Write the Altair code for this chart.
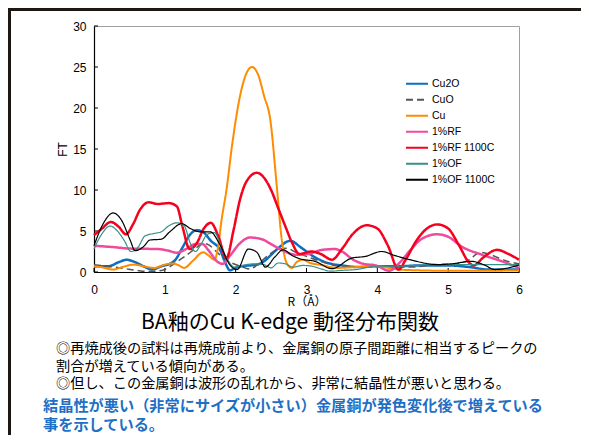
import altair as alt
import pandas as pd

# ---------------- data ----------------
series = ["Cu2O", "CuO", "Cu", "1%RF", "1%RF 1100C", "1%OF", "1%OF 1100C"]
colors = ["#0a6fc2", "#555555", "#ff8c00", "#ee4b9c", "#f5001e", "#3a8f88", "#000000"]
dashes = [[1, 0], [7, 4], [1, 0], [1, 0], [1, 0], [1, 0], [1, 0]]
widths = [2.5, 1.5, 2.0, 2.5, 2.5, 1.2, 1.2]

cu2o_x = [0, 0.2, 0.35, 0.46, 0.58, 0.7, 0.82, 0.95, 1.07, 1.15, 1.25, 1.36, 1.45, 1.55, 1.65, 1.78, 1.86, 1.92, 2.0, 2.09, 2.3, 2.4, 2.49, 2.6, 2.77, 2.92, 3.08, 3.3, 3.5, 3.75, 4.0, 4.3, 4.6, 5.0, 5.3, 5.57, 5.8, 6.0]
cu2o_y = [0.7, 0.7, 1.2, 1.5, 1.2, 0.7, 0.3, 0.7, 1.0, 1.5, 3.0, 4.6, 5.1, 4.8, 3.8, 2.7, 1.0, 0.2, 0.5, 0.7, 0.9, 1.3, 2.0, 2.9, 3.8, 3.0, 2.0, 1.1, 0.8, 0.6, 0.7, 0.7, 0.8, 0.8, 0.6, 0.3, 0.3, 0.3]

cuo_x = [0, 0.23, 0.41, 0.6, 0.78, 0.98, 1.17, 1.3, 1.45, 1.54, 1.62, 1.75, 1.87, 1.97, 2.1, 2.2, 2.32, 2.44, 2.58, 2.72, 2.85, 3.0, 3.2, 3.4, 3.6, 4.0, 4.5, 4.8, 5.1, 5.3, 5.45, 5.6, 5.8, 6.0]
cuo_y = [0.9, 0.65, 0.45, 0.2, 0.05, 0.25, 1.25, 2.0, 3.0, 3.5, 3.3, 2.3, 1.4, 1.0, 0.6, 0.35, 1.0, 1.9, 2.7, 2.9, 2.4, 1.9, 1.3, 0.8, 0.6, 0.6, 0.6, 0.9, 1.0, 1.5, 2.4, 2.1, 1.4, 1.0]

cu_x = [0, 0.1, 0.27, 0.4, 0.56, 0.7, 0.85, 1.0, 1.11, 1.2, 1.27, 1.4, 1.54, 1.62, 1.70, 1.75, 1.80, 1.87, 1.95, 2.06, 2.15, 2.23, 2.32, 2.4, 2.49, 2.58, 2.65, 2.72, 2.79, 2.86, 2.95, 3.05, 3.18, 3.45, 3.7, 3.98, 4.3, 4.6, 5.0, 5.5, 6.0]
cu_y = [0.7, 0.6, 0.3, 0.6, 0.9, 0.7, 0.5, 0.9, 1.05, 0.8, 0.5, 1.4, 2.4, 2.0, 1.5, 3.0, 6.3, 10.0, 15.5, 21.4, 24.2, 25.0, 24.0, 21.5, 18.5, 10.5, 4.0, 1.1, 0.5, 1.2, 1.5, 1.1, 0.9, 0.5, 0.6, 0.7, 0.3, 0.2, 0.15, 0.15, 0.2]

rf_x = [0, 0.25, 0.53, 0.9, 1.05, 1.17, 1.3, 1.43, 1.53, 1.62, 1.75, 1.82, 1.92, 2.06, 2.2, 2.37, 2.5, 2.67, 2.85, 3.02, 3.22, 3.4, 3.5, 3.66, 3.8, 3.98, 4.17, 4.3, 4.46, 4.62, 4.84, 5.0, 5.19, 5.48, 5.76, 6.0]
rf_y = [3.2, 3.05, 2.85, 2.8, 2.6, 2.35, 2.8, 3.4, 3.4, 2.6, 1.2, 1.0, 2.0, 3.5, 4.2, 4.0, 3.4, 2.6, 2.1, 2.2, 2.7, 2.8, 2.5, 1.5, 1.0, 0.8, 0.15, 1.0, 2.6, 4.0, 4.6, 4.3, 3.1, 2.1, 1.3, 0.5]

rf11_x = [0, 0.1, 0.24, 0.35, 0.45, 0.55, 0.65, 0.77, 0.9, 1.06, 1.17, 1.25, 1.35, 1.45, 1.55, 1.65, 1.75, 1.87, 1.97, 2.06, 2.15, 2.3, 2.4, 2.5, 2.6, 2.7, 2.8, 2.9, 3.07, 3.2, 3.36, 3.5, 3.65, 3.85, 4.0, 4.15, 4.3, 4.4, 4.55, 4.7, 4.85, 5.0, 5.15, 5.3, 5.36, 5.5, 5.69, 5.85, 6.0]
rf11_y = [4.5, 5.2, 6.1, 5.5, 4.6, 5.8, 7.6, 8.5, 8.3, 8.4, 8.0, 5.5, 2.8, 3.5, 5.3, 6.0, 4.5, 1.7, 5.1, 8.8, 11.0, 12.1, 11.5, 10.0, 7.8, 5.6, 3.5, 2.2, 2.5, 2.2, 1.5, 2.8, 4.6, 5.7, 5.3, 3.2, 0.3, 1.5, 3.8, 5.3, 5.8, 5.3, 3.3, 1.1, 0.8, 1.8, 2.7, 2.2, 1.5]

of_x = [0, 0.1, 0.23, 0.33, 0.43, 0.52, 0.62, 0.72, 0.85, 0.95, 1.05, 1.17, 1.27, 1.36, 1.43, 1.5, 1.6, 1.7, 1.8, 1.9, 1.98, 2.1, 2.25, 2.4, 2.5, 2.6, 2.7, 2.81, 2.95, 3.08, 3.2, 3.34, 3.5, 3.7, 3.98, 4.3, 4.78, 5.3, 5.7, 6.0]
of_y = [2.8, 4.5, 5.6, 5.0, 3.8, 2.5, 3.0, 4.4, 4.7, 4.9, 5.6, 6.0, 5.7, 3.5, 2.5, 3.2, 4.6, 4.8, 3.0, 1.3, 0.6, 0.8, 1.0, 0.9, 0.5, 1.1, 1.0, 0.6, 0.8, 0.7, 0.4, 0.1, 0.2, 0.3, 0.7, 0.7, 0.9, 0.9, 0.9, 0.9]

of11_x = [0, 0.13, 0.27, 0.39, 0.51, 0.58, 0.7, 0.79, 0.95, 1.07, 1.24, 1.36, 1.5, 1.64, 1.78, 1.92, 2.02, 2.18, 2.3, 2.42, 2.55, 2.67, 2.8, 2.91, 3.12, 3.36, 3.64, 3.83, 4.06, 4.25, 4.46, 4.86, 5.05, 5.33, 5.5, 5.66, 6.0]
of11_y = [3.2, 5.9, 7.2, 6.3, 3.9, 2.6, 3.1, 3.9, 4.0, 4.9, 5.9, 5.3, 4.9, 4.9, 3.3, 0.85, 0.3, 2.8, 2.4, 0.6, 1.8, 2.7, 2.0, 1.6, 1.3, 0.4, 1.7, 1.9, 2.5, 2.0, 1.5, 0.9, 1.0, 1.3, 0.9, 0.3, 0.85]

xs = [cu2o_x, cuo_x, cu_x, rf_x, rf11_x, of_x, of11_x]
ys = [cu2o_y, cuo_y, cu_y, rf_y, rf11_y, of_y, of11_y]

x_ticks = [0, 1, 2, 3, 4, 5, 6]
y_ticks = [0, 5, 10, 15, 20, 25, 30]

title_text = "BA釉のCu K-edge 動径分布関数"
note_lines = [
    "◎再焼成後の試料は再焼成前より、金属銅の原子間距離に相当するピークの",
    "割合が増えている傾向がある。",
    "◎但し、この金属銅は波形の乱れから、非常に結晶性が悪いと思わる。",
]
blue_lines = [
    "結晶性が悪い（非常にサイズが小さい）金属銅が発色変化後で増えている",
    "事を示している。",
]

# ---------------- build ----------------
rows = []
for name, xv, yv in zip(series, xs, ys):
    for a, b in zip(xv, yv):
        rows.append({"series": name, "R": a, "FT": b})
df = pd.DataFrame(rows)

W, H = 425, 246
JP = "Noto Sans CJK JP"
LAT = "Liberation Sans"

xscale = alt.Scale(domain=[0, 6], nice=False, zero=False)
yscale = alt.Scale(domain=[0, 30], nice=False)
xaxis = alt.Axis(values=x_ticks, ticks=False, grid=False, labelPadding=12, labelFont=LAT,
                 labelFontSize=12, labelColor="black", labelFlush=False, domainColor="black",
                 domainWidth=1.2, title="R（Å）", titleFont=JP, titleFontSize=12,
                 titleFontWeight="normal", titleColor="black", titlePadding=1)
yaxis = alt.Axis(values=y_ticks, ticks=False, grid=False, labelPadding=8, labelFont=LAT,
                 labelFontSize=12, labelColor="black", labelFlush=False, domainColor="black",
                 domainWidth=1.2, title="FT", titleFont=LAT, titleFontSize=12,
                 titleFontWeight="normal", titleColor="black", titlePadding=3)

X = alt.X("R:Q", scale=xscale, axis=xaxis)
Y = alt.Y("FT:Q", scale=yscale, axis=yaxis)

legend = alt.Legend(orient="none", legendX=311, legendY=51, symbolType="stroke",
                    symbolSize=484, symbolStrokeWidth=2, labelFont=LAT, labelFontSize=10.5,
                    labelColor="black", labelOffset=3, rowPadding=2, clipHeight=13.6, padding=0)
color = alt.Color("series:N", scale=alt.Scale(domain=series, range=colors), legend=legend, title=None)
dash = alt.StrokeDash("series:N", scale=alt.Scale(domain=series, range=dashes), legend=legend, title=None)

layers = []
for name, w in zip(series, widths):
    layers.append(
        alt.Chart(df).transform_filter(alt.datum.series == name)
        .mark_line(interpolate="monotone", strokeWidth=w)
        .encode(x=X, y=Y, color=color, strokeDash=dash)
    )

xt = alt.Chart(pd.DataFrame({"R": x_ticks})).mark_rule(color="black", strokeWidth=1).encode(
    x=X, y=alt.value(H), y2=alt.value(H - 4))
yt = alt.Chart(pd.DataFrame({"FT": y_ticks})).mark_rule(color="black", strokeWidth=1).encode(
    y=Y, x=alt.value(0), x2=alt.value(4))

one = pd.DataFrame({"a": [0]})
border_top = alt.Chart(one).mark_rule(color="#1e1712", strokeWidth=3).encode(
    x=alt.value(-86), x2=alt.value(487), y=alt.value(-16.5))
border_left = alt.Chart(one).mark_rule(color="#1e1712", strokeWidth=3).encode(
    x=alt.value(-84.5), y=alt.value(-18), y2=alt.value(409))

texts = []
texts.append(alt.Chart(pd.DataFrame({"t": [title_text]})).mark_text(
    font=JP, fontSize=21, color="black", align="center", baseline="middle").encode(
    text="t:N", x=alt.value(196), y=alt.value(297)))
for i, line in enumerate(note_lines):
    texts.append(alt.Chart(pd.DataFrame({"t": [line]})).mark_text(
        font=JP, fontSize=14.2, color="black", align="left", baseline="middle").encode(
        text="t:N", x=alt.value(-38), y=alt.value(323 + 17.5 * i)))
for i, line in enumerate(blue_lines):
    texts.append(alt.Chart(pd.DataFrame({"t": [line]})).mark_text(
        font=JP, fontSize=15.2, fontWeight="bold", color="#1f6fc5", align="left",
        baseline="middle").encode(
        text="t:N", x=alt.value(-51), y=alt.value(380 + 19 * i)))

chart = alt.layer(xt, yt, *layers, border_top, border_left, *texts).properties(
    width=W, height=H,
    autosize=alt.AutoSizeParams(type="none"),
    padding={"left": 86, "top": 18, "right": 62, "bottom": 163},
    background="white",
).configure_view(stroke="#a0a0a0", strokeWidth=1)

chart.save("out.html", embed_options={"renderer": "svg", "actions": False})
